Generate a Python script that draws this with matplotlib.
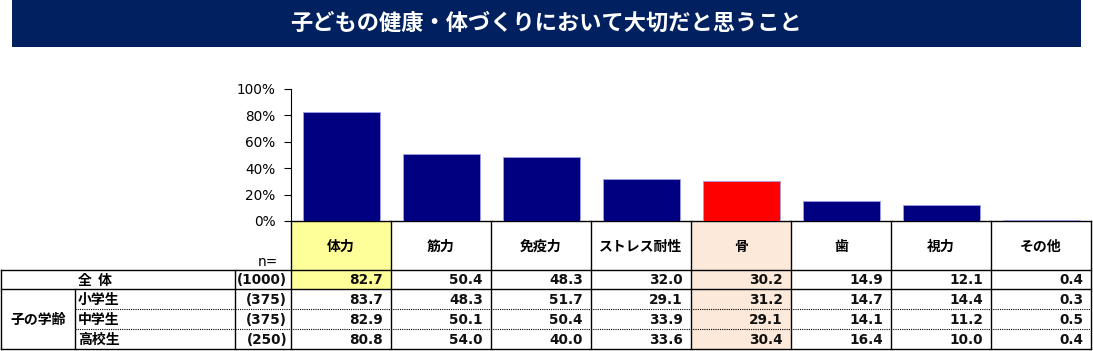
import matplotlib
matplotlib.use("Agg")
import matplotlib.pyplot as plt
from matplotlib.patches import Rectangle
from matplotlib.ticker import PercentFormatter
import numpy as np

plt.rcParams["font.family"] = ["DejaVu Sans"]
JP = ["Noto Sans CJK JP", "DejaVu Sans"]

# ---------------------------------------------------------------------------
# データ
# ---------------------------------------------------------------------------
TITLE = "子どもの健康・体づくりにおいて大切だと思うこと"
items = ["体力", "筋力", "免疫力", "ストレス耐性", "骨", "歯", "視力", "その他"]
total = [82.7, 50.4, 48.3, 32.0, 30.2, 14.9, 12.1, 0.4]
elementary = [83.7, 48.3, 51.7, 29.1, 31.2, 14.7, 14.4, 0.3]
junior_high = [82.9, 50.1, 50.4, 33.9, 29.1, 14.1, 11.2, 0.5]
high_school = [80.8, 54.0, 40.0, 33.6, 30.4, 16.4, 10.0, 0.4]
row_labels = ["全  体", "小学生", "中学生", "高校生"]
group_label = "子の学齢"
n_values = [1000, 375, 375, 250]
highlight_item = "骨"

rows = [total, elementary, junior_high, high_school]

# ---------------------------------------------------------------------------
# レイアウト (px)
# ---------------------------------------------------------------------------
W, H = 1093, 351
NAVY = "#002060"
BAR = "#000080"
YELLOW = "#FFFF99"
PEACH = "#FDE9D9"
NUM_KW = dict(fontsize=9.8, fontweight="bold", color="#111111")

col_left = 291
col_w = 100
axis_top, axis_bot = 89, 221
head_bot = 270
row_edges = [270, 289, 309, 329, 349]

fig = plt.figure(figsize=(W / 100, H / 100), dpi=100)

# 全体を覆うピクセル座標のレイヤー
lay = fig.add_axes([0, 0, 1, 1])
lay.set_xlim(0, W)
lay.set_ylim(H, 0)
lay.axis("off")

# タイトル帯
lay.add_patch(Rectangle((12, 0), 1069, 47, color=NAVY, lw=0))
lay.text(546, 23, TITLE, color="white", fontsize=16, fontweight="bold",
         family=JP, ha="center", va="center")

# ---------------------------------------------------------------------------
# 棒グラフ
# ---------------------------------------------------------------------------
ax = fig.add_axes([col_left / W, (H - axis_bot) / H,
                   col_w * len(items) / W, (axis_bot - axis_top) / H])
x = np.arange(len(items))
colors = ["#FF0000" if it == highlight_item else BAR for it in items]
ax.bar(x, total, width=0.77, color=colors, edgecolor="#9FA0E6", linewidth=0.6)
ax.set_xlim(-0.5, len(items) - 0.5)
ax.set_ylim(0, 100)
ax.set_yticks(np.arange(0, 101, 20))
ax.yaxis.set_major_formatter(PercentFormatter(decimals=0))
ax.set_xticks([])
for s in ["top", "right", "bottom"]:
    ax.spines[s].set_visible(False)
ax.spines["left"].set_linewidth(0.8)
ax.tick_params(axis="y", direction="out", length=5, width=0.8,
               labelsize=9.8, pad=6, colors="black")
ax.patch.set_alpha(0)

# ---------------------------------------------------------------------------
# 表
# ---------------------------------------------------------------------------
hi = items.index(highlight_item)
for j, it in enumerate(items):
    x0 = col_left + j * col_w
    # 背景色
    if j == 0:
        lay.add_patch(Rectangle((x0, axis_bot), col_w, row_edges[1] - axis_bot,
                                color=YELLOW, lw=0))
    if j == hi:
        lay.add_patch(Rectangle((x0, axis_bot), col_w, row_edges[-1] - axis_bot,
                                color=PEACH, lw=0))
    lay.text(x0 + col_w / 2, (axis_bot + head_bot) / 2 + 1, it, family=JP,
             fontsize=10, fontweight="bold", ha="center", va="center")
    for r, vals in enumerate(rows):
        yc = (row_edges[r] + row_edges[r + 1]) / 2
        lay.text(x0 + col_w - 8, yc + 0.5, f"{vals[j]:.1f}",
                 ha="right", va="center", **NUM_KW)

# 行ラベルと n
lay.text(268, 262, "n=", fontsize=9.8, ha="center", va="center")
for r, (lab, n) in enumerate(zip(row_labels, n_values)):
    yc = (row_edges[r] + row_edges[r + 1]) / 2
    lay.text(78, yc + 1, lab, family=JP, fontsize=10, fontweight="bold",
             ha="left", va="center")
    lay.text(287, yc + 0.5, f"({n})", ha="right", va="center", **NUM_KW)
lay.text(38, (row_edges[1] + row_edges[-1]) / 2 + 1, group_label, family=JP,
         fontsize=10, fontweight="bold", ha="center", va="center")

# 罫線
right = col_left + col_w * len(items)
lw = 1.0
lay.plot([col_left, right], [axis_bot, axis_bot], color="black", lw=lw)
lay.plot([1, right], [head_bot, head_bot], color="black", lw=lw)
lay.plot([1, right], [row_edges[1], row_edges[1]], color="black", lw=lw)
for yl in row_edges[2:4]:
    lay.plot([75, right], [yl, yl], color="black", lw=0.8, ls=(0, (1, 1)))
lay.plot([1, right], [row_edges[-1], row_edges[-1]], color="black", lw=lw)
for j in range(len(items) + 1):
    xl = col_left + j * col_w
    lay.plot([xl, xl], [axis_bot, row_edges[-1]], color="black", lw=lw)
lay.plot([1, 1], [head_bot, row_edges[-1]], color="black", lw=lw)
lay.plot([235, 235], [head_bot, row_edges[-1]], color="black", lw=lw)
lay.plot([75, 75], [row_edges[1], row_edges[-1]], color="black", lw=lw)

fig.savefig("out.png", dpi=100)
